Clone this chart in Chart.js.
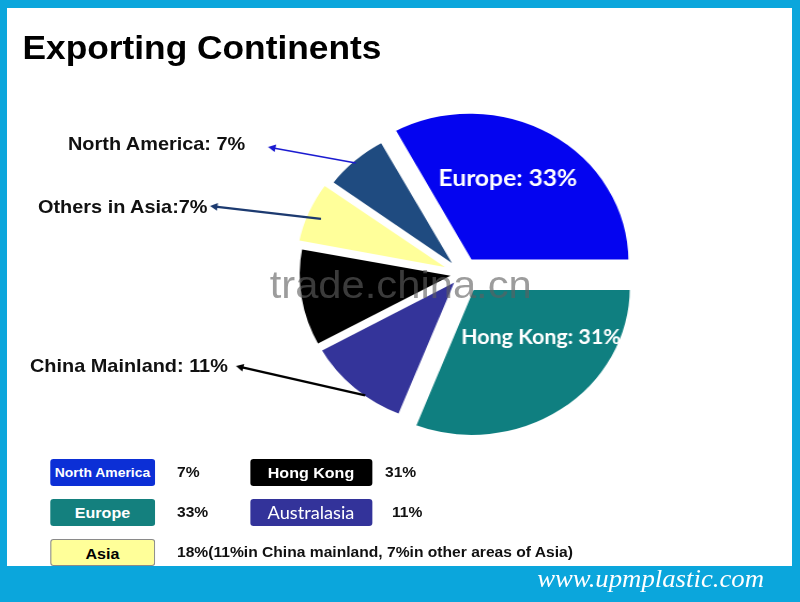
<!DOCTYPE html>
<html>
<head>
<meta charset="utf-8">
<script src="https://cdn.jsdelivr.net/npm/chart.js@4.4.1/dist/chart.umd.min.js"></script>
<style>
  html, body { margin: 0; padding: 0; }
  body { width: 800px; height: 602px; position: relative; overflow: hidden; background: #0ba6dc; font-family: "Liberation Sans", Arial, sans-serif; }
  #panel { position: absolute; left: 7px; top: 8px; width: 785px; height: 558px; background: #fff; }
  /* the original picture is stretched a little sideways */
  #stage { position: absolute; left: 0; top: 0; width: 748px; height: 602px; transform: scaleX(1.07); transform-origin: 0 0; }
  #chart { position: absolute; left: 0; top: 0; z-index: 2; }
  .txt { position: absolute; z-index: 3; white-space: nowrap; }
  #title { left: 21px; top: 31px; font-size: 33px; line-height: 33px; font-weight: bold; color: #000; }
  .callout { font-size: 18.6px; font-weight: bold; color: #111; }
  .box { position: absolute; z-index: 3; height: 27px; line-height: 27px; border-radius: 3px; text-align: center; color: #fff; font-weight: bold; font-size: 13px; box-sizing: border-box; }
  .val { position: absolute; z-index: 3; font-weight: bold; font-size: 14.6px; line-height: 27px; color: #111; white-space: nowrap; }
  #footer { left: 502px; top: 565px; font-family: "Liberation Serif", serif; font-style: italic; font-size: 25px; color: #fff; }
  #wm { left: 252px; top: 263px; font-size: 39px; color: rgba(95,95,95,0.62); z-index: 4; }
</style>
</head>
<body>
<div id="panel"></div>
<div id="stage">
  <canvas id="chart" width="748" height="602"></canvas>
  <div class="txt" id="title">Exporting Continents</div>
  <div class="txt" id="wm">trade.china.cn</div>
  <div class="txt" id="footer">www.upmplastic.com</div>
  <div id="legend"></div>
  <div id="callouts"></div>
</div>
<script>
// pie slices, clockwise from 3 o'clock
const sliceLabels = ['Hong Kong', 'Australasia', 'China Mainland', 'Others in Asia', 'North America', 'Europe'];
const sliceValues = [31, 11, 11, 7, 7, 33];
const sliceColors = ['#0f7f80', '#34349a', '#000000', '#ffff9a', '#1f4b80', '#0404f0'];
const sliceOffsets = [64, 16, 16, 24, 12, 56];

// outside labels and the slice each arrow points at
const calloutTexts = ['North America: 7%', 'Others in Asia:7%', 'China Mainland: 11%'];
const calloutSlices = [4, 3, 1];
const calloutColors = ['#1a1ad0', '#1c3a70', '#000000'];

// legend table under the pie
const legendNames = ['North America', 'Hong Kong', 'Europe', 'Australasia', 'Asia'];
const legendValues = ['7%', '31%', '33%', '11%', '18%(11%in China mainland, 7%in other areas of Asia)'];
const legendColors = ['#0c2fd6', '#000000', '#14807e', '#33339a', '#ffff99'];

const K = 1.07; // sideways stretch of the stage

// callout text: left, baseline; arrow tip (page px)
const calloutPos = [[68, 150, 268, 147], [38, 213, 210, 206], [30, 372, 236, 366]];
// where the arrow starts inside its slice: fraction of the slice's sweep, fraction of radius
const calloutAnchor = [[0.48, 0.98], [0.47, 0.92], [0.38, 0.99]];
const calloutWidth = [1.6, 2.4, 2.4];

const callBox = document.getElementById('callouts');
calloutTexts.forEach((t, i) => {
  const d = document.createElement('div');
  d.className = 'txt callout';
  d.textContent = t;
  d.style.left = (calloutPos[i][0] / K) + 'px';
  d.style.top = (calloutPos[i][1] - 17) + 'px';
  callBox.appendChild(d);
});

const legBox = document.getElementById('legend');
// box left, top, width, value left (page px)
const legPos = [[50, 459, 105, 177], [250, 459, 122, 385], [50, 499, 105, 177], [250, 499, 122, 392], [50, 539, 105, 177]];
legendNames.forEach((n, i) => {
  const p = legPos[i];
  const b = document.createElement('div');
  b.className = 'box';
  b.textContent = n;
  b.style.left = (p[0] / K) + 'px';
  b.style.top = p[1] + 'px';
  b.style.width = (p[2] / K) + 'px';
  b.style.background = legendColors[i];
  if (n === 'Asia') { b.style.color = '#000'; b.style.border = '1px solid #8a8a8a'; b.style.fontSize = '15px'; }
  if (n === 'Australasia') { b.style.fontWeight = 'normal'; b.style.fontFamily = 'Lato, "Open Sans", sans-serif'; b.style.fontSize = '17px'; }
  if (n === 'Hong Kong' || n === 'Europe') b.style.fontSize = '15px';
  legBox.appendChild(b);
  const v = document.createElement('div');
  v.className = 'val';
  v.textContent = legendValues[i];
  v.style.left = (p[3] / K) + 'px';
  v.style.top = p[1] + 'px';
  legBox.appendChild(v);
});

const innerLabels = {0: 'Hong Kong: 31%', 5: 'Europe: 33%'};
// angle (deg), fraction of radius, font size
const innerPlace = {0: [38, 0.55, 20], 5: [-67, 0.61, 23]};

const sliceText = {
  id: 'sliceText',
  afterDatasetsDraw(chart) {
    const ctx = chart.ctx;
    const arcs = chart.getDatasetMeta(0).data;
    const shift = (a) => {
      const mid = (a.startAngle + a.endAngle) / 2;
      const o = (a.options.offset || 0) / 4;
      return [a.x + Math.cos(mid) * o, a.y + Math.sin(mid) * o];
    };
    ctx.save();
    ctx.fillStyle = '#fff';
    ctx.textAlign = 'center';
    ctx.textBaseline = 'middle';
    Object.keys(innerLabels).forEach(k => {
      const a = arcs[k];
      const [cx, cy] = shift(a);
      const ang = innerPlace[k][0] * Math.PI / 180;
      const r = a.outerRadius * innerPlace[k][1];
      ctx.font = 'bold ' + innerPlace[k][2] + 'px Lato, "Open Sans", sans-serif';
      ctx.fillText(innerLabels[k], cx + Math.cos(ang) * r, cy + Math.sin(ang) * r);
    });
    // arrows from slices to outside labels
    calloutSlices.forEach((s, i) => {
      const a = arcs[s];
      const [cx, cy] = shift(a);
      const ang0 = a.startAngle + (a.endAngle - a.startAngle) * calloutAnchor[i][0];
      const r = a.outerRadius * calloutAnchor[i][1];
      const x0 = cx + Math.cos(ang0) * r, y0 = cy + Math.sin(ang0) * r;
      const x1 = calloutPos[i][2] / K, y1 = calloutPos[i][3];
      const ang = Math.atan2(y1 - y0, x1 - x0);
      ctx.strokeStyle = calloutColors[i];
      ctx.fillStyle = calloutColors[i];
      ctx.lineWidth = calloutWidth[i];
      ctx.beginPath();
      ctx.moveTo(x0, y0);
      ctx.lineTo(x1 - Math.cos(ang) * 5, y1 - Math.sin(ang) * 5);
      ctx.stroke();
      ctx.beginPath();
      ctx.moveTo(x1, y1);
      ctx.lineTo(x1 - Math.cos(ang - 0.5) * 8, y1 - Math.sin(ang - 0.5) * 8);
      ctx.lineTo(x1 - Math.cos(ang + 0.5) * 8, y1 - Math.sin(ang + 0.5) * 8);
      ctx.closePath();
      ctx.fill();
    });
    ctx.restore();
  }
};

new Chart(document.getElementById('chart').getContext('2d'), {
  type: 'pie',
  data: {
    labels: sliceLabels,
    datasets: [{
      data: sliceValues,
      backgroundColor: sliceColors,
      offset: sliceOffsets,
      borderColor: '#ffffff',
      borderWidth: 5
    }]
  },
  options: {
    responsive: false,
    animation: false,
    rotation: 90,
    radius: 149,
    layout: { padding: { left: 116, right: 0, top: 0, bottom: 54 } },
    plugins: {
      legend: { display: false },
      tooltip: { enabled: false }
    }
  },
  plugins: [sliceText]
});
</script>
</body>
</html>
